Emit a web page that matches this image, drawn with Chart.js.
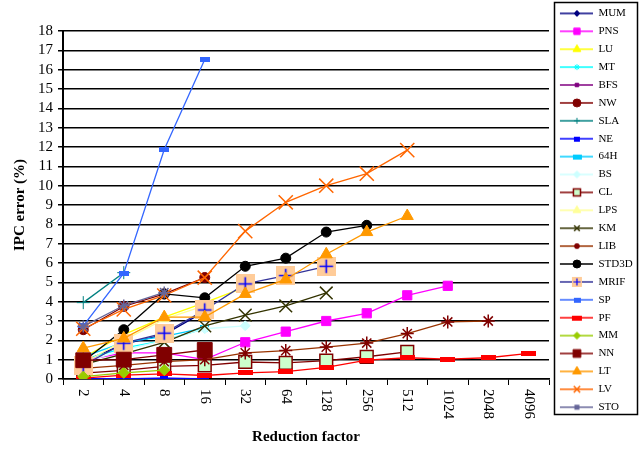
<!DOCTYPE html>
<html><head><meta charset="utf-8">
<script src="https://cdn.jsdelivr.net/npm/chart.js@4.4.1/dist/chart.umd.min.js"></script>
<style>html,body{margin:0;padding:0;background:#fff}#wrap{width:642px;height:451px}</style>
</head><body><div id="wrap"><canvas id="c" width="642" height="451"></canvas></div>
<script>
// ---- data ----
const categories = ['2','4','8','16','32','64','128','256','512','1024','2048','4096'];
const yTickValues = [0,1,2,3,4,5,6,7,8,9,10,11,12,13,14,15,16,17,18];
const seriesNames = ['MUM','PNS','LU','MT','BFS','NW','SLA','NE','64H','BS','CL','LPS','KM','LIB','STD3D','MRIF','SP','PF','MM','NN','LT','LV','STO'];
const MUM   = [0.9, 1.8, 2.3, 3.5];
const PNS   = [0.95, 1.35, 1.35, 1.0, 1.9, 2.45, 3.0, 3.4, 4.33, 4.82];
const LU    = [1.1, 2.3, 3.2, 3.95, 4.75];
const MT    = [1.0, 1.6, 2.0, 2.6];
const BFS   = [0.02, 0.02, 0.03, 0.02];
const NW    = [2.55, 3.75, 4.4, 5.25];
const SLA   = [3.95, 5.5];
const NE    = [0.02, 0.0, 0.05, 0.0];
const H64   = [1.15, 1.9, 2.2, 2.65];
const BS    = [0.85, 1.5, 2.0, 2.6, 2.75];
const CL    = [0.3, 0.45, 0.65, 0.7, 0.88, 0.83, 0.95, 1.15, 1.4];
const LPS   = [0.8, 2.0, 3.1, 3.8];
const KM    = [0.75, 1.3, 1.9, 2.75, 3.3, 3.78, 4.45];
const LIB   = [0.55, 0.7, 0.9, 1.0, 1.35, 1.47, 1.65, 1.86, 2.35, 2.95, 3.0];
const STD3D = [0.9, 2.55, 4.4, 4.2, 5.83, 6.25, 7.6, 7.95];
const MRIF  = [0.7, 1.85, 2.37, 3.57, 4.92, 5.35, 5.83];
const SP    = [2.75, 5.47, 11.87, 16.53];
const PF    = [0.05, 0.2, 0.27, 0.18, 0.32, 0.38, 0.6, 0.98, 1.1, 1.03, 1.1, 1.33];
const MM    = [0.12, 0.32, 0.46];
const NN    = [0.97, 1.0, 1.25, 1.5];
const LT    = [1.6, 2.1, 3.2, 3.2, 4.4, 5.15, 6.45, 7.6, 8.43];
const LV    = [2.6, 3.6, 4.32, 5.24, 7.65, 9.14, 10.0, 10.62, 11.84];
const STO   = [2.72, 3.8, 4.48];
const seriesValues = [MUM,PNS,LU,MT,BFS,NW,SLA,NE,H64,BS,CL,LPS,KM,LIB,STD3D,MRIF,SP,PF,MM,NN,LT,LV,STO];

// ---- styles ----
function rectImg(w, h, fill, stroke) {
  const c = document.createElement('canvas'); c.width = w; c.height = h;
  const g = c.getContext('2d'); g.fillStyle = fill; g.fillRect(0,0,w,h);
  if (stroke) { g.strokeStyle = stroke; g.lineWidth = 1; g.strokeRect(0.5,0.5,w-1,h-1); }
  return c;
}
function mrifImg(s) {
  const c = document.createElement('canvas'); c.width = s; c.height = s;
  const g = c.getContext('2d'); g.fillStyle = '#ffcc99'; g.fillRect(0,0,s,s);
  g.strokeStyle = '#0000ff'; g.lineWidth = s > 12 ? 1.6 : 1.2;
  const m = s/2, a = s*0.36;
  g.beginPath(); g.moveTo(m-a, m); g.lineTo(m+a, m); g.moveTo(m, m-a); g.lineTo(m, m+a); g.stroke();
  return c;
}
const styles = {
  MUM:   {line:'#000080', ps:'rectRot', r:4, bg:'#000080', bc:'#000080', lr:3},
  PNS:   {line:'#ff00ff', ps:'rect', r:6.5, bg:'#ff00ff', bc:'#ff00ff', lr:4.5},
  LU:    {line:'#ffff00', ps:'triangle', r:5.5, bg:'#ffff00', bc:'#ffff00', lr:4.5},
  MT:    {line:'#00ffff', ps:'star', r:4, bg:'#00ffff', bc:'#00ffff', lr:3},
  BFS:   {line:'#800080', ps:'star', r:3, bg:'#800080', bc:'#800080', lr:2.5, lps:'rect'},
  NW:    {line:'#800000', ps:'circle', r:5, bg:'#800000', bc:'#800000', lr:4},
  SLA:   {line:'#008080', ps:'cross', r:6.5, bg:'#008080', bc:'#008080', lr:3},
  NE:    {line:'#0000ff', img:rectImg(8,5,'#0000ff'), limg:rectImg(6,5,'#0000ff')},
  '64H': {line:'#00ccff', img:rectImg(9,5,'#00ccff'), limg:rectImg(9,5,'#00ccff')},
  BS:    {line:'#ccffff', ps:'rectRot', r:5, bg:'#ccffff', bc:'#ccffff', lr:3.5},
  CL:    {line:'#800000', ps:'rect', r:9, bg:'#ccffcc', bc:'#800000', bw:1.5, lr:5},
  LPS:   {line:'#ffff99', ps:'triangle', r:5.5, bg:'#ffff99', bc:'#ffff99', lr:4.5},
  KM:    {line:'#333300', ps:'crossRot', r:9, bg:'#333300', bc:'#333300', bw:1.5, lr:4},
  LIB:   {line:'#993300', ps:'star', r:6.5, bg:'#800000', bc:'#800000', bw:1.5, lr:3},
  STD3D: {line:'#000000', ps:'circle', r:5, bg:'#000000', bc:'#000000', lr:4},
  MRIF:  {line:'#333399', img:mrifImg(19), limg:mrifImg(10)},
  SP:    {line:'#3366ff', img:rectImg(10,5,'#3366ff'), limg:rectImg(7,5,'#3366ff')},
  PF:    {line:'#ff0000', img:rectImg(15,5,'#ff0000'), limg:rectImg(10,5,'#ff0000')},
  MM:    {line:'#99cc00', ps:'rectRot', r:5.5, bg:'#99cc00', bc:'#99cc00', lr:3.5},
  NN:    {line:'#800000', ps:'rect', r:10.5, bg:'#800000', bc:'#800000', lr:5.5},
  LT:    {line:'#ff9900', ps:'triangle', r:7, bg:'#ff9900', bc:'#ff9900', lr:5},
  LV:    {line:'#ff6600', ps:'crossRot', r:10, bg:'#ff6600', bc:'#ff6600', bw:1.5, lr:4.5},
  STO:   {line:'#666699', ps:'star', r:6, bg:'#666699', bc:'#666699', bw:1.5, lr:2.5, lps:'rect'}
};

function legendIcon(st) {
  const c = document.createElement('canvas'); c.width = 37; c.height = 14;
  const g = c.getContext('2d');
  g.strokeStyle = st.line; g.lineWidth = 1.5;
  g.beginPath(); g.moveTo(4, 7); g.lineTo(37, 7); g.stroke();
  if (st.limg) {
    g.drawImage(st.limg, Math.round(21 - st.limg.width/2), Math.round(7 - st.limg.height/2));
  } else {
    g.fillStyle = st.bg; g.strokeStyle = st.bc; g.lineWidth = st.bw || 1;
    Chart.helpers.drawPoint(g, {pointStyle: st.lps || st.ps, radius: st.lr, borderWidth: st.bw || 1, rotation: 0}, 21, 7);
  }
  return c;
}

const datasets = seriesNames.map((name, i) => {
  const st = styles[name];
  return {
    label: name,
    data: seriesValues[i],
    borderColor: st.line,
    backgroundColor: st.line,
    borderWidth: 1.3,
    pointStyle: st.img || st.ps,
    pointRadius: st.img ? 6 : st.r,
    pointBackgroundColor: st.bg || st.line,
    pointBorderColor: st.bc || st.line,
    pointBorderWidth: st.bw || 1,
    pointHoverRadius: st.img ? 6 : st.r,
    fill: false,
    tension: 0,
    order: -i,
    _icon: legendIcon(st)
  };
});

const serif = 'Liberation Serif, Times New Roman, serif';

const boxPlugin = {
  id: 'legendBox',
  afterDraw(chart) {
    const ctx = chart.ctx;
    ctx.save();
    ctx.strokeStyle = '#000'; ctx.lineWidth = 1.5;
    ctx.strokeRect(554.5, 2.5, 83, 412);
    // x tick labels rotated clockwise
    const xs = chart.scales.x;
    ctx.fillStyle = '#000';
    ctx.font = '15px ' + serif;
    ctx.textAlign = 'left'; ctx.textBaseline = 'middle';
    categories.forEach((lab, i) => {
      const x = xs.getPixelForTick(i);
      ctx.save(); ctx.translate(x, xs.top + 10); ctx.rotate(Math.PI/2);
      ctx.fillText(lab, 0, 0); ctx.restore();
    });
    ctx.restore();
  }
};

new Chart(document.getElementById('c'), {
  type: 'line',
  data: { labels: categories, datasets },
  plugins: [boxPlugin],
  options: {
    responsive: false, animation: false, devicePixelRatio: 1,
    layout: { padding: { top: 1, right: 4, bottom: 0, left: 0 } },
    plugins: {
      tooltip: { enabled: false },
      title: { display: true, text: '', padding: 0, font: { size: 30, lineHeight: 1 } },
      legend: {
        position: 'right', align: 'start', maxWidth: 89,
        labels: {
          usePointStyle: true, pointStyleWidth: 37, boxHeight: 11, padding: 6.9,
          color: '#000', font: { family: serif, size: 11 },
          generateLabels(chart) {
            return chart.data.datasets.map((ds, i) => ({
              text: ds.label, fillStyle: ds.borderColor, strokeStyle: ds.borderColor,
              lineWidth: 0, hidden: false, datasetIndex: i, pointStyle: ds._icon, rotation: 0,
              fontColor: '#000'
            }));
          }
        }
      }
    },
    scales: {
      x: {
        type: 'category', offset: true,
        grid: { offset: true, drawOnChartArea: false, drawTicks: true, tickLength: 6, color: '#000', lineWidth: 1 },
        border: { display: true, color: '#000', width: 1.5 },
        ticks: { display: false },
        title: { display: true, text: 'Reduction factor', color: '#000', font: { family: serif, size: 15, weight: 'bold' }, padding: { top: 0, bottom: 4.5 } },
        afterFit(s) { s.height = 72; }
      },
      y: {
        min: 0, max: 18,
        afterBuildTicks(s) { s.ticks = yTickValues.map(v => ({ value: v })); },
        ticks: { color: '#000', font: { family: serif, size: 15 }, padding: 5, stepSize: 1, autoSkip: false },
        grid: { color: '#000', lineWidth: 1.5, tickLength: 5 },
        border: { display: true, color: '#000', width: 2 },
        title: { display: true, text: 'IPC error (%)', color: '#000', font: { family: serif, size: 15, weight: 'bold' }, padding: { top: 11, bottom: 0 } },
        afterFit(s) { s.width = 63; }
      }
    }
  }
});
</script></body></html>
